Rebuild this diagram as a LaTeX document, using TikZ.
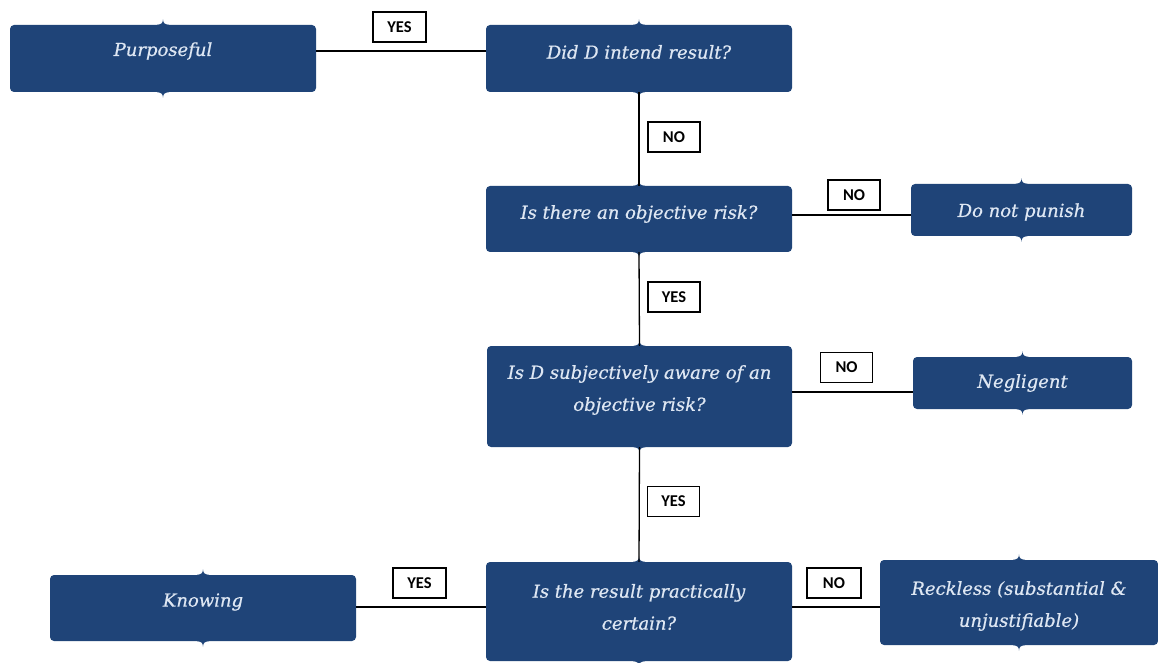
\documentclass[tikz,border=0pt]{standalone}
\usepackage{fontspec}
\newfontfamily\boxfont[ItalicFeatures={FakeBold=0.6}]{DejaVu Serif}
\newfontfamily\lblfont{Carlito}
\definecolor{boxblue}{RGB}{31,68,120}
\definecolor{boxtext}{RGB}{222,231,243}
\tikzset{
  flowbox/.style={fill=boxblue, rounded corners=4pt, inner sep=0pt, draw=none},
  boxtxt/.style={text=boxtext, font=\boxfont\itshape\fontsize{18}{32}\selectfont, align=center, inner sep=0pt},
  answer/.style={draw=black, line width=1.2pt, fill=white, inner sep=0pt, minimum width=52pt, minimum height=30pt, font=\lblfont\bfseries\fontsize{16.5}{18}\selectfont},
  conn/.style={draw=black, line width=1.3pt},
  notch/.style={fill=boxblue}
}
\newcommand{\notches}[1]{%
  \fill[notch] ([xshift=-6pt]#1.north) .. controls +(4,0.3) and +(0,-4) .. ([yshift=5.5pt]#1.north) .. controls +(0,-4) and +(-4,0.3) .. ([xshift=6pt]#1.north) -- cycle;
  \fill[notch] ([xshift=-6pt]#1.south) .. controls +(4,-0.3) and +(0,4) .. ([yshift=-5.5pt]#1.south) .. controls +(0,4) and +(-4,-0.3) .. ([xshift=6pt]#1.south) -- cycle;
}
\begin{document}
\begin{tikzpicture}[x=1pt,y=1pt]
\useasboundingbox (0,0) rectangle (1158,662);

% boxes
\node[flowbox, minimum width=306pt, minimum height=67pt] (purp) at (163,603.5) {};
\node[flowbox, minimum width=306pt, minimum height=67pt] (did) at (639,603.5) {};
\node[flowbox, minimum width=306pt, minimum height=66pt] (risk) at (639,443) {};
\node[flowbox, minimum width=221pt, minimum height=52pt] (punish) at (1021.5,452) {};
\node[flowbox, minimum width=305pt, minimum height=101pt] (aware) at (639.5,265.5) {};
\node[flowbox, minimum width=219pt, minimum height=52pt] (negl) at (1022.5,279) {};
\node[flowbox, minimum width=306pt, minimum height=99pt] (result) at (639,50.5) {};
\node[flowbox, minimum width=306pt, minimum height=66pt] (know) at (203,54) {};
\node[flowbox, minimum width=278pt, minimum height=85pt] (reck) at (1019,59.5) {};

\notches{purp}
\notches{did}
\notches{risk}
\notches{punish}
\notches{aware}
\notches{negl}
\notches{result}
\notches{know}
\notches{reck}

% texts
\node[boxtxt] (purpT) at (163,611) {Purposeful};
\node[boxtxt] (didT) at (639,610) {Did D intend result?};
\node[boxtxt] (riskT) at (639,448) {Is there an objective risk?};
\node[boxtxt] (punishT) at (1021.5,450) {Do not punish};
\node[boxtxt] (awareT) at (639.5,272) {Is D subjectively aware of an\\objective risk?};
\node[boxtxt] (neglT) at (1022.5,279) {Negligent};
\node[boxtxt] (resultT) at (639,55) {Is the result practically\\certain?};
\node[boxtxt] (knowT) at (203,60) {Knowing};
\node[boxtxt] (reckT) at (1019,56) {Reckless (substantial \&\\unjustifiable)};

% connector levels
\coordinate (h1) at (0,611);
\coordinate (h2) at (0,447);
\coordinate (h3) at (0,270);
\coordinate (h4) at (0,55);

\draw[conn] (purp.east |- h1) -- (did.west |- h1);
\draw[conn] (did.south) -- (risk.north);
\draw[conn] (risk.east |- h2) -- (punish.west |- h2);
\draw[conn] (risk.south) -- (aware.north);
\draw[conn] (aware.east |- h3) -- (negl.west |- h3);
\draw[conn] (aware.south) -- (result.north);
\draw[conn] (know.east |- h4) -- (result.west |- h4);
\draw[conn] (result.east |- h4) -- (reck.west |- h4);

% answer labels
\node[answer, minimum width=53pt] (yes1) at (399.5,635) {YES};
\node[answer] (no1) at (674,525) {NO};
\node[answer] (no2) at (854,467) {NO};
\node[answer] (yes2) at (674,365) {YES};
\node[answer] (no3) at (846.5,294.5) {NO};
\node[answer] (yes3) at (673.5,160.5) {YES};
\node[answer, minimum width=53pt] (yes4) at (419.5,79) {YES};
\node[answer, minimum width=54pt] (no4) at (834,79) {NO};
\end{tikzpicture}
\end{document}
